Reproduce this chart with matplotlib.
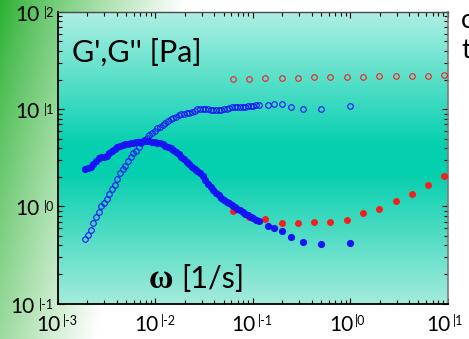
import numpy as np
import matplotlib
matplotlib.use("Agg")
import matplotlib.pyplot as plt
from matplotlib.colors import LinearSegmentedColormap

plt.rcParams['font.family'] = ['Lato', 'DejaVu Sans']

# Sample A: dense low-frequency sweep followed by a sparse tail (log10 units)
log_omega_a = [
    -2.719, -2.692, -2.665, -2.637, -2.610, -2.583, -2.555, -2.528, -2.500, -2.473,
    -2.446, -2.418, -2.391, -2.364, -2.336, -2.309, -2.281, -2.254, -2.227, -2.199,
    -2.172, -2.145, -2.117, -2.090, -2.062, -2.035, -2.008, -1.980, -1.953, -1.926,
    -1.898, -1.871, -1.843, -1.816, -1.789, -1.761, -1.734, -1.707, -1.679, -1.652,
    -1.624, -1.597, -1.570, -1.542, -1.515, -1.488, -1.460, -1.433, -1.405, -1.378,
    -1.351, -1.323, -1.296, -1.269, -1.241, -1.214, -1.186, -1.159, -1.132, -1.104,
    -1.077, -1.050, -1.022, -0.995, -0.967, -0.940,
    -0.848, -0.783, -0.701, -0.605, -0.482, -0.304, -0.003]
log_g1_a = [
    -0.335, -0.293, -0.245, -0.173, -0.112, -0.060, 0.001, 0.039, 0.077, 0.128,
    0.183, 0.221, 0.283, 0.341, 0.389, 0.420, 0.464, 0.512, 0.546, 0.574,
    0.615, 0.649, 0.684, 0.704, 0.732, 0.756, 0.776, 0.804, 0.821, 0.841,
    0.862, 0.882, 0.896, 0.910, 0.924, 0.937, 0.948, 0.954, 0.958, 0.965,
    0.972, 0.982, 1.002, 1.006, 1.002, 0.999, 0.999, 0.996, 0.992, 0.992,
    0.989, 0.992, 0.999, 1.006, 1.013, 1.020, 1.020, 1.023, 1.023, 1.026,
    1.026, 1.030, 1.033, 1.037, 1.040, 1.044,
    1.044, 1.050, 1.054, 1.023, 0.999, 1.006, 1.037]
log_g2_a = [
    0.385, 0.396, 0.409, 0.437, 0.464, 0.499, 0.512, 0.509, 0.519, 0.546,
    0.574, 0.594, 0.612, 0.622, 0.632, 0.639, 0.646, 0.653, 0.656, 0.660,
    0.663, 0.666, 0.670, 0.670, 0.670, 0.666, 0.663, 0.656, 0.649, 0.639,
    0.625, 0.612, 0.598, 0.584, 0.564, 0.540, 0.512, 0.485, 0.457, 0.433,
    0.409, 0.389, 0.368, 0.348, 0.313, 0.272, 0.231, 0.197, 0.166, 0.142,
    0.115, 0.091, 0.067, 0.049, 0.032, 0.012, -0.006, -0.023, -0.040, -0.057,
    -0.074, -0.091, -0.108, -0.122, -0.139, -0.153,
    -0.204, -0.225, -0.249, -0.314, -0.369, -0.386, -0.376]

# Sample B: six points per decade (log10 units)
log_omega_b = [-1.207, -1.039, -0.872, -0.704, -0.536, -0.372, -0.204,
               -0.037, 0.131, 0.299, 0.466, 0.634, 0.802, 0.966]
log_g1_b = [1.311, 1.314, 1.318, 1.321, 1.325, 1.328, 1.328,
            1.331, 1.335, 1.338, 1.338, 1.342, 1.345, 1.349]
log_g2_b = [-0.043, -0.112, -0.125, -0.170, -0.173, -0.163, -0.156,
            -0.136, -0.071, -0.026, 0.053, 0.132, 0.224, 0.317]

x_ticks = [1e-3, 1e-2, 1e-1, 1e0, 1e1]
x_exps = ["|-3", "|-2", "|-1", "|0", "|1"]
y_ticks = [1e-1, 1e0, 1e1, 1e2]
y_exps = ["|-1", "|0", "|1", "|2"]

BLUE = '#1414f5'
RED = '#f51e1e'

W, H = 469, 339
fig = plt.figure(figsize=(W / 100, H / 100), dpi=100)

# figure background: green corner fading to white
bg = fig.add_axes([0, 0, 1, 1], zorder=-10)
bg.axis('off')
yy, xx = np.mgrid[0:H, 0:W]
t = np.clip((xx + 0.265 * yy) / 185.0, 0, 1) ** 0.85
green = np.array([40, 176, 48]) / 255.0
white = np.ones(3)
img = green[None, None, :] * (1 - t[..., None]) + white[None, None, :] * t[..., None]
bg.imshow(img, extent=[0, 1, 0, 1], aspect='auto', origin='upper')
bg.set_xlim(0, 1)
bg.set_ylim(0, 1)

ax = fig.add_axes([58 / W, 1 - 303.7 / H, (447.7 - 58) / W, (303.7 - 12) / H])
ax.set_xscale('log')
ax.set_yscale('log')
ax.set_xlim(1e-3, 1e1)
ax.set_ylim(1e-1, 1e2)

# plot-area vertical gradient
cmap = LinearSegmentedColormap.from_list(
    'teal', [(0.0, '#aeefe3'), (0.45, '#06d0b0'), (0.55, '#04cfae'), (1.0, '#a4ebdb')])
grad = np.linspace(0, 1, 256)[:, None]
ax.imshow(grad, cmap=cmap, extent=[0, 1, 0, 1], transform=ax.transAxes,
          aspect='auto', origin='upper', zorder=0)

wa = 10 ** np.array(log_omega_a)
wb = 10 ** np.array(log_omega_b)
ax.plot(wb, 10 ** np.array(log_g2_b), 'o', color=RED, ms=5.0, mec='none', zorder=3)
ax.plot(wa, 10 ** np.array(log_g2_a), 'o', color=BLUE, ms=5.2, mec='none', zorder=4)
ax.plot(wa, 10 ** np.array(log_g1_a), 'o', mfc='none', mec=BLUE, ms=4.0, mew=0.8, zorder=5)
ax.plot(wb, 10 ** np.array(log_g1_b), 'o', mfc='none', mec=RED, ms=4.0, mew=0.8, zorder=5)

ax.tick_params(which='both', direction='in', top=True, right=True,
               labelbottom=False, labelleft=False, color='black')
ax.tick_params(which='major', length=4.5, width=0.8)
ax.tick_params(which='minor', length=2.6, width=0.8)
ax.set_xticks(x_ticks)
ax.set_yticks(y_ticks)
for side in ('left', 'bottom'):
    ax.spines[side].set_linewidth(1.3)
    ax.spines[side].set_color('black')
ax.spines['top'].set_color('#4a4a4a')
ax.spines['top'].set_linewidth(1.0)
ax.spines['right'].set_color('#7a7a7a')
ax.spines['right'].set_linewidth(1.2)

main_fs = 15
sup_fs = 9
# x tick labels: "10" with raised exponent
for v, e in zip(x_ticks, x_exps):
    ax.annotate("10", xy=(v, 0), xycoords=('data', 'axes fraction'),
                xytext=(3, -11), textcoords='offset pixels',
                ha='right', va='top', fontsize=main_fs, annotation_clip=False)
    ax.annotate(e, xy=(v, 0), xycoords=('data', 'axes fraction'),
                xytext=(5, -10), textcoords='offset pixels',
                ha='left', va='top', fontsize=sup_fs, annotation_clip=False)
# y tick labels
for v, e in zip(y_ticks, y_exps):
    sup = ax.annotate(e, xy=(0, v), xycoords=('axes fraction', 'data'),
                      xytext=(-4, 6), textcoords='offset pixels',
                      ha='right', va='top', fontsize=sup_fs, annotation_clip=False)
    ax.annotate("10", xy=(0, 1), xycoords=sup, xytext=(-4, 1),
                textcoords='offset pixels', ha='right', va='top',
                fontsize=main_fs, annotation_clip=False)

fig.text(72 / W, 1 - 62 / H, "G',G'' [Pa]", fontsize=22, va='baseline', ha='left')
fig.text(149 / W, 1 - 288 / H, "\u03c9", fontsize=24, fontweight='bold',
         family='Liberation Serif', va='baseline', ha='left')
fig.text(181 / W, 1 - 288 / H, "[1/s]", fontsize=22, va='baseline', ha='left')
fig.text(461 / W, 1 - 28 / H, "c", fontsize=19, va='baseline', ha='left')
fig.text(461 / W, 1 - 58 / H, "t", fontsize=19, va='baseline', ha='left')

fig.savefig('out.png', dpi=100)
